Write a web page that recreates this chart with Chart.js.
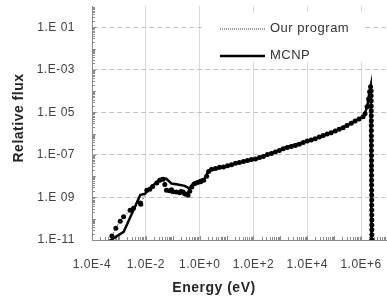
<!DOCTYPE html>
<html>
<head>
<meta charset="utf-8">
<script src="https://cdn.jsdelivr.net/npm/chart.js@4/dist/chart.umd.min.js"></script>
<style>
  html, body { margin: 0; padding: 0; background: #fff; }
  #wrap { width: 387px; height: 297px; overflow: hidden; }
  canvas { display: block; }
</style>
</head>
<body>
<div id="wrap"><canvas id="fluxChart" width="392" height="297"></canvas></div>
<script>
// axis ticks (every two decades, labels as printed in the figure)
const xTickValues = [1e-4, 1e-2, 1e0, 1e2, 1e4, 1e6];
const xTickLabels = ['1.0E-4', '1.0E-2', '1.0E+0', '1.0E+2', '1.0E+4', '1.0E+6'];
const yTickValues = [1e-11, 1e-9, 1e-7, 1e-5, 1e-3, 1e-1];
const yTickLabels = ['1.E-11', '1.E 09', '1.E-07', '1.E 05', '1.E-03', '1.E 01'];

const seriesNames = ['Our program', 'MCNP'];

// "Our program" (dots)
const progEnergy = [
  5.5e-4, 7.7e-4, 1.12e-3, 1.49e-3, 2.6e-3, 3.5e-3, 6.2e-3, 6.5e-3, 1.09e-2, 1.4e-2,
  1.8e-2, 2.55e-2, 3.3e-2, 4.4e-2, 5.1e-2, 5.85e-2, 7.7e-2, 0.09, 0.103, 0.137,
  0.182, 0.2, 0.24, 0.28, 0.32, 0.37, 0.43, 0.51, 0.65, 0.84,
  1.09, 1.41, 1.82, 2.15, 2.78, 3.9, 5.5, 7.7, 10.9, 15.3,
  21.5, 30, 42.6, 60, 84, 119, 167, 234, 330, 464,
  653, 918, 1290, 1815, 2550, 3600, 5060, 7100, 1.0e4, 1.4e4,
  1.98e4, 2.78e4, 3.9e4, 5.5e4, 7.7e4, 1.09e5, 1.53e5, 2.15e5, 3.0e5, 4.3e5,
  6.0e5, 8.4e5, 1.19e6, 1.4e6, 1.67e6, 1.9e6, 2.07e6, 2.25e6,
  2.36e6, 2.37e6, 2.38e6, 2.38e6, 2.39e6, 2.39e6, 2.4e6, 2.4e6, 2.41e6, 2.41e6,
  2.42e6, 2.42e6, 2.43e6, 2.43e6, 2.44e6, 2.44e6, 2.45e6, 2.45e6, 2.46e6, 2.46e6,
  2.47e6, 2.47e6, 2.48e6, 2.48e6, 2.49e6, 2.49e6, 2.5e6, 2.5e6, 2.51e6, 2.51e6,
  2.52e6, 2.52e6
];
const progFlux = [
  1.55e-11, 3.6e-11, 7.7e-11, 1.23e-10, 2.5e-10, 3.1e-10, 5.5e-10, 4.8e-10, 2.2e-9, 2.4e-9,
  3.3e-9, 4.8e-9, 6.4e-9, 7.1e-9, 4.1e-9, 2.17e-9, 2.05e-9, 2.3e-9, 1.85e-9, 1.8e-9,
  1.66e-9, 1.9e-9, 1.8e-9, 1.5e-9, 1.4e-9, 1.27e-9, 1.95e-9, 3.1e-9, 4.4e-9, 5.1e-9,
  5.4e-9, 6.4e-9, 9.8e-9, 1.67e-8, 2.1e-8, 2.3e-8, 2.6e-8, 2.7e-8, 3.1e-8, 3.45e-8,
  4.0e-8, 4.4e-8, 4.9e-8, 5.5e-8, 6.1e-8, 6.4e-8, 7.6e-8, 8.4e-8, 1.04e-7, 1.16e-7,
  1.37e-7, 1.6e-7, 1.93e-7, 2.2e-7, 2.5e-7, 2.8e-7, 3.2e-7, 3.8e-7, 4.5e-7, 5.0e-7,
  5.8e-7, 6.9e-7, 8.1e-7, 9.5e-7, 1.11e-6, 1.34e-6, 1.62e-6, 1.9e-6, 2.4e-6, 3.1e-6,
  3.9e-6, 4.9e-6, 6.2e-6, 8.6e-6, 1.83e-5, 4.3e-5, 9.2e-5, 1.58e-4,
  1.0e-4, 6.0e-5, 3.5e-5, 2.0e-5, 1.2e-5, 7.0e-6, 4.0e-6, 2.4e-6, 1.4e-6, 8.0e-7,
  4.8e-7, 2.8e-7, 1.6e-7, 9.5e-8, 5.5e-8, 3.2e-8, 1.9e-8, 1.1e-8, 6.5e-9, 3.8e-9,
  2.2e-9, 1.3e-9, 7.5e-10, 4.4e-10, 2.6e-10, 1.5e-10, 8.8e-11, 5.1e-11, 3.0e-11, 1.75e-11,
  1.0e-11, 6.0e-12
];

// MCNP (solid line)
const mcnpEnergy = [
  3.8e-4, 1.5e-3, 6.2e-3, 9.4e-3, 1.4e-2, 2.55e-2, 3.9e-2, 5.8e-2, 9.0e-2, 0.153,
  0.278, 0.43, 0.565, 1.0, 1.53, 2.03, 2.34, 3.6, 6.4, 19.8,
  61.5, 193, 600, 1630, 6700, 2.78e4, 1.16e5, 3.6e5, 8.4e5, 1.29e6,
  1.71e6, 1.98e6, 2.28e6, 2.45e6
];
const mcnpFlux = [
  8e-12, 2.4e-11, 1.3e-9, 1.5e-9, 2.7e-9, 5.3e-9, 7.9e-9, 7.6e-9, 4.5e-9, 4.1e-9,
  3.5e-9, 2.6e-9, 4.5e-9, 6.4e-9, 7.6e-9, 1.55e-8, 1.85e-8, 2.2e-8, 2.5e-8, 3.8e-8,
  5.5e-8, 7.8e-8, 1.34e-7, 2.3e-7, 3.9e-7, 6.7e-7, 1.38e-6, 2.8e-6, 4.9e-6, 6.9e-6,
  2.0e-5, 7.2e-5, 1.75e-4, 1e-12
];

const toPoints = (xs, ys) => xs.map((x, i) => ({ x, y: ys[i] }));
const FONT = "'Liberation Sans', Arial, sans-serif";

// no extra label padding around the plot area
const noPadding = s => {
  s.paddingTop = 0;
  s.paddingBottom = 0;
  s.paddingLeft = 0;
  s.paddingRight = 0;
};

// minor ticks, legend box and axis titles
const decorations = {
  id: 'decorations',
  beforeDraw(chart) {
    chart.ctx.letterSpacing = '0.5px';
  },
  beforeDatasetsDraw(chart) {
    const { ctx, chartArea: a, scales: { x, y } } = chart;
    ctx.save();
    ctx.strokeStyle = '#8c8c8c';
    ctx.lineWidth = 1;
    ctx.beginPath();
    for (let e = -4; e < 7; e++) {
      for (let k = 1; k < 10; k++) {
        const px = Math.round(x.getPixelForValue(k * 10 ** e)) + 0.5;
        ctx.moveTo(px, a.bottom);
        ctx.lineTo(px, a.bottom - (k === 1 ? 4 : 3));
      }
    }
    for (let e = -11; e < 0; e++) {
      for (let k = 1; k < 10; k++) {
        const py = Math.round(y.getPixelForValue(k * 10 ** e)) + 0.5;
        ctx.moveTo(a.left, py);
        ctx.lineTo(a.left + (k === 1 ? 4 : 3), py);
      }
    }
    ctx.stroke();
    ctx.restore();
  },
  afterDatasetsDraw(chart, args, opts) {
    const { ctx } = chart;
    const L = opts.legend;
    ctx.save();
    ctx.fillStyle = '#fff';
    ctx.fillRect(L.x, L.y, L.w, L.h);
    chart.data.datasets.forEach((ds, i) => {
      const cy = L.firstRow + i * L.rowGap;
      ctx.strokeStyle = ds.legendColor;
      ctx.lineWidth = ds.legendWidth;
      ctx.setLineDash(ds.legendDash);
      ctx.beginPath();
      ctx.moveTo(L.lineX, cy + 0.5);
      ctx.lineTo(L.lineX + L.lineLen, cy + 0.5);
      ctx.stroke();
      ctx.setLineDash([]);
      ctx.fillStyle = '#333';
      ctx.font = '13px ' + FONT;
      ctx.textBaseline = 'middle';
      ctx.textAlign = 'left';
      ctx.fillText(ds.label, L.textX, cy);
    });
    ctx.restore();
  },
  afterDraw(chart, args, opts) {
    const { ctx } = chart;
    ctx.save();
    ctx.fillStyle = '#262626';
    ctx.font = 'bold 14px ' + FONT;
    ctx.textAlign = 'center';
    ctx.textBaseline = 'middle';
    ctx.fillText(opts.xTitle.text, opts.xTitle.x, opts.xTitle.y);
    ctx.translate(opts.yTitle.x, opts.yTitle.y);
    ctx.rotate(-Math.PI / 2);
    ctx.fillText(opts.yTitle.text, 0, 0);
    ctx.restore();
  }
};

new Chart(document.getElementById('fluxChart'), {
  type: 'line',
  data: {
    datasets: [
      {
        label: seriesNames[0],
        data: toPoints(progEnergy, progFlux),
        borderColor: '#000',
        borderWidth: 1,
        borderDash: [1, 2],
        pointRadius: 2.5,
        pointBackgroundColor: '#000',
        pointBorderWidth: 0,
        legendColor: '#333',
        legendWidth: 1,
        legendDash: [1, 1]
      },
      {
        label: seriesNames[1],
        data: toPoints(mcnpEnergy, mcnpFlux),
        borderColor: '#000',
        borderWidth: 2.5,
        pointRadius: 0,
        legendColor: '#000',
        legendWidth: 2.5,
        legendDash: []
      }
    ]
  },
  options: {
    responsive: false,
    animation: false,
    devicePixelRatio: 1,
    layout: { padding: { top: 6, right: 3, left: 0, bottom: 0 } },
    plugins: {
      legend: { display: false },
      tooltip: { enabled: false },
      decorations: {
        legend: { x: 205, y: 12, w: 157, h: 50, firstRow: 28.5, rowGap: 27, lineX: 220, lineLen: 45, textX: 270 },
        xTitle: { text: 'Energy (eV)', x: 214, y: 288 },
        yTitle: { text: 'Relative flux', x: 19, y: 118 }
      }
    },
    scales: {
      x: {
        type: 'logarithmic',
        min: 1e-4,
        max: 1e7,
        afterBuildTicks: s => { s.ticks = xTickValues.map(v => ({ value: v })); },
        afterFit: s => { s.height = 57; noPadding(s); },
        ticks: {
          callback: (v, i) => xTickLabels[i],
          autoSkip: false,
          maxRotation: 0,
          padding: 17,
          color: '#404040',
          font: { family: FONT, size: 12 }
        },
        grid: { drawTicks: false, color: '#d9d9d9', lineWidth: 1 },
        border: { color: '#8c8c8c', width: 1 }
      },
      y: {
        type: 'logarithmic',
        min: 1e-11,
        max: 1,
        afterBuildTicks: s => { s.ticks = yTickValues.map(v => ({ value: v })); },
        afterFit: s => { s.width = 92; noPadding(s); },
        ticks: {
          callback: (v, i) => yTickLabels[i],
          autoSkip: false,
          padding: 17,
          color: '#404040',
          font: { family: FONT, size: 12 }
        },
        grid: { drawTicks: false, color: '#c4c4c4', lineWidth: 1 },
        border: { color: '#8c8c8c', width: 1, dash: [5, 3] }
      }
    }
  },
  plugins: [decorations]
});
</script>
</body>
</html>
